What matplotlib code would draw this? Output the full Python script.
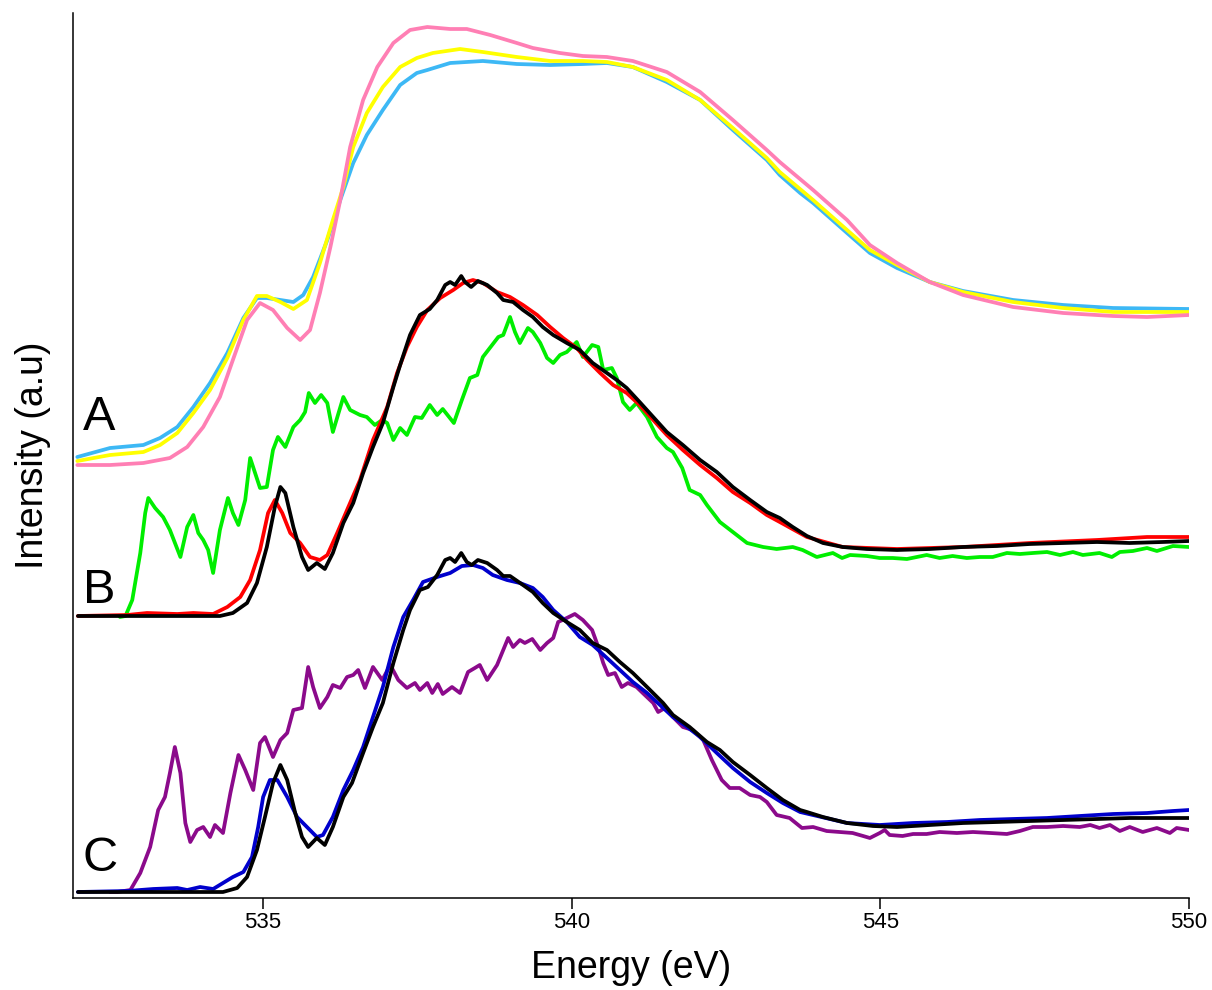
import matplotlib
matplotlib.use("Agg")
import matplotlib.pyplot as plt
from matplotlib import font_manager

plt.rcParams['font.family'] = ['Liberation Sans', 'DejaVu Sans']

# ---------------- Panel A ----------------
eA_blue = [531.99, 532.52, 533.06, 533.33, 533.61, 533.87, 534.14, 534.42, 534.68, 534.90,
           535.06, 535.28, 535.49, 535.65, 535.81, 536.04, 536.25, 536.46, 536.68, 536.94,
           537.22, 537.49, 537.66, 538.03, 538.56, 539.11, 539.65, 540.18, 540.57, 540.99,
           541.54, 542.08, 542.61, 543.16, 543.37, 543.70, 543.91, 544.46, 544.83, 545.27,
           545.80, 546.34, 547.15, 547.96, 548.77, 550.0]
iA_blue = [441, 450, 453, 460, 471, 491, 515, 545, 580, 600,
           600, 598, 596, 603, 621, 658, 698, 735, 763, 788,
           813, 825, 828, 835, 837, 834, 833, 834, 835, 831,
           816, 798, 768, 738, 723, 705, 695, 665, 645, 630,
           616, 607, 598, 593, 590, 589]

eA_yellow = [531.99, 532.52, 533.06, 533.33, 533.61, 533.87, 534.14, 534.42, 534.68, 534.90,
             535.06, 535.28, 535.49, 535.71, 535.92, 536.13, 536.30, 536.46, 536.68, 536.94,
             537.22, 537.49, 537.75, 538.19, 538.56, 539.11, 539.65, 540.18, 540.57, 540.99,
             541.54, 542.08, 542.61, 543.16, 543.37, 543.91, 544.46, 544.83, 545.27, 545.80,
             546.34, 547.15, 547.96, 548.77, 550.0]
iA_yellow = [437, 443, 446, 453, 465, 485, 508, 540, 578, 602,
             602, 596, 589, 598, 635, 678, 711, 751, 785, 811,
             831, 840, 845, 849, 846, 841, 837, 837, 836, 831,
             818, 798, 770, 740, 726, 698, 668, 648, 633, 616,
             606, 596, 590, 586, 586]

eA_pink = [531.99, 532.52, 533.06, 533.49, 533.77, 534.03, 534.30, 534.51, 534.74, 534.95,
           535.16, 535.39, 535.60, 535.76, 535.92, 536.09, 536.25, 536.41, 536.62, 536.85,
           537.11, 537.38, 537.66, 538.03, 538.30, 538.68, 539.11, 539.37, 539.81, 540.18,
           540.57, 540.99, 541.54, 542.08, 542.61, 543.16, 543.37, 543.91, 544.46, 544.83,
           545.27, 545.80, 546.34, 547.15, 547.96, 548.77, 549.32, 550.0]
iA_pink = [433, 433, 435, 440, 451, 471, 501, 538, 578, 595,
           588, 570, 558, 568, 605, 651, 698, 751, 798, 831,
           855, 868, 871, 869, 869, 863, 855, 850, 845, 842,
           841, 837, 826, 806, 778, 748, 736, 708, 678, 653,
           635, 616, 603, 591, 585, 582, 581, 583]

# ---------------- Panel B ----------------
eB_green = [532.68, 532.77, 532.88, 533.01, 533.09, 533.14, 533.25, 533.38, 533.49, 533.66,
            533.77, 533.87, 533.95, 534.03, 534.11, 534.19, 534.30, 534.43, 534.51, 534.60,
            534.71, 534.79, 534.87, 534.95, 535.06, 535.16, 535.24, 535.36, 535.49, 535.60,
            535.68, 535.74, 535.84, 535.94, 536.04, 536.13, 536.30, 536.41, 536.57, 536.68,
            536.81, 536.93, 537.01, 537.11, 537.22, 537.33, 537.46, 537.57, 537.70, 537.82,
            537.91, 538.09, 538.22, 538.35, 538.47, 538.56, 538.71, 538.81, 538.89, 539.00,
            539.08, 539.16, 539.29, 539.37, 539.49, 539.60, 539.70, 539.81, 539.92, 540.08,
            540.18, 540.33, 540.43, 540.51, 540.65, 540.73, 540.83, 540.94, 541.05, 541.22,
            541.38, 541.54, 541.64, 541.79, 541.91, 542.08, 542.19, 542.40, 542.61, 542.84,
            543.10, 543.32, 543.58, 543.74, 543.97, 544.23, 544.38, 544.51, 544.78, 544.99,
            545.20, 545.43, 545.75, 545.96, 546.17, 546.40, 546.61, 546.82, 547.05, 547.26,
            547.47, 547.70, 547.91, 548.12, 548.28, 548.55, 548.75, 548.88, 549.09, 549.32,
            549.48, 549.74, 550.0]
iB_green = [281, 282, 298, 345, 385, 400, 390, 381, 368, 341,
            371, 383, 365, 358, 348, 325, 368, 400, 385, 373,
            398, 440, 425, 410, 411, 448, 461, 451, 471, 478,
            486, 505, 495, 503, 495, 466, 501, 488, 483, 481,
            473, 478, 475, 458, 470, 463, 481, 480, 493, 483,
            489, 475, 498, 520, 523, 541, 553, 561, 563, 581,
            566, 555, 570, 566, 555, 540, 535, 543, 546, 556,
            541, 553, 551, 528, 530, 520, 496, 488, 495, 481,
            461, 450, 446, 430, 408, 403, 393, 376, 366, 355,
            351, 349, 351, 348, 341, 345, 340, 343, 342, 340,
            340, 339, 343, 340, 342, 340, 341, 341, 345, 344,
            345, 346, 343, 346, 343, 345, 341, 346, 347, 350,
            347, 352, 351]

eB_red = [532.00, 532.80, 533.12, 533.61, 533.87, 534.19, 534.42, 534.63, 534.79, 534.95,
          535.08, 535.19, 535.31, 535.44, 535.60, 535.76, 535.92, 536.04, 536.20, 536.36,
          536.57, 536.78, 537.01, 537.17, 537.33, 537.49, 537.66, 537.87, 538.08, 538.24,
          538.40, 538.56, 538.79, 539.00, 539.21, 539.44, 539.65, 539.86, 540.08, 540.25,
          540.46, 540.67, 540.89, 541.10, 541.32, 541.54, 541.80, 542.08, 542.35, 542.61,
          542.89, 543.16, 543.37, 543.81, 544.39, 545.27, 546.34, 547.42, 548.51, 549.32,
          550.0]
iB_red = [282, 283, 285, 284, 285, 284, 291, 301, 318, 348,
          385, 398, 385, 365, 355, 341, 338, 343, 365, 388,
          418, 458, 491, 525, 551, 571, 588, 600, 608, 615,
          618, 615, 606, 601, 593, 583, 571, 560, 550, 538,
          525, 513, 505, 493, 478, 463, 448, 433, 420, 406,
          395, 383, 376, 361, 351, 349, 351, 355, 358, 361,
          361]

eB_black = [532.00, 534.30, 534.51, 534.74, 534.90, 535.06, 535.19, 535.28, 535.36, 535.49,
            535.63, 535.73, 535.87, 536.00, 536.13, 536.30, 536.46, 536.62, 536.78, 536.94,
            537.11, 537.22, 537.38, 537.54, 537.70, 537.82, 537.95, 538.03, 538.11, 538.21,
            538.27, 538.37, 538.48, 538.63, 538.79, 538.89, 539.05, 539.21, 539.37, 539.53,
            539.70, 539.92, 540.13, 540.34, 540.57, 540.73, 540.89, 541.10, 541.32, 541.54,
            541.80, 542.08, 542.35, 542.61, 542.89, 543.16, 543.37, 543.58, 543.81, 544.07,
            544.39, 544.78, 545.27, 545.80, 546.34, 546.89, 547.42, 547.96, 548.51, 549.04,
            549.57, 550.0]
iB_black = [282, 282, 285, 295, 315, 351, 391, 411, 405, 371,
            341, 328, 335, 329, 345, 375, 395, 425, 451, 475,
            511, 533, 563, 583, 589, 598, 613, 616, 613, 622,
            616, 611, 617, 613, 605, 598, 596, 588, 581, 571,
            563, 555, 548, 535, 525, 518, 510, 496, 481, 466,
            453, 438, 426, 411, 398, 386, 380, 371, 362, 355,
            351, 349, 348, 349, 351, 352, 354, 355, 356, 355,
            356, 357]

# ---------------- Panel C ----------------
eC_purple = [532.52, 532.64, 532.85, 533.01, 533.17, 533.30, 533.41, 533.49, 533.57, 533.66,
             533.74, 533.82, 533.93, 534.03, 534.14, 534.22, 534.35, 534.47, 534.60, 534.71,
             534.84, 534.95, 535.03, 535.16, 535.28, 535.39, 535.49, 535.63, 535.73, 535.81,
             535.92, 536.04, 536.13, 536.25, 536.36, 536.46, 536.54, 536.65, 536.78, 536.93,
             537.06, 537.19, 537.33, 537.46, 537.54, 537.66, 537.74, 537.83, 537.91, 538.06,
             538.19, 538.32, 538.43, 538.51, 538.63, 538.79, 538.87, 538.97, 539.05, 539.16,
             539.24, 539.36, 539.49, 539.60, 539.70, 539.78, 539.92, 540.05, 540.18, 540.33,
             540.43, 540.51, 540.59, 540.70, 540.81, 540.91, 541.05, 541.15, 541.32, 541.40,
             541.51, 541.64, 541.80, 541.96, 542.13, 542.27, 542.43, 542.56, 542.72, 542.89,
             543.05, 543.16, 543.32, 543.53, 543.73, 543.91, 544.13, 544.34, 544.55, 544.72,
             544.83, 544.99, 545.07, 545.15, 545.36, 545.53, 545.75, 545.96, 546.24, 546.50,
             546.78, 547.05, 547.26, 547.47, 547.70, 547.96, 548.23, 548.40, 548.55, 548.72,
             548.88, 549.04, 549.25, 549.48, 549.69, 549.80, 550.0]
iC_purple = [6, 6, 8, 25, 51, 88, 101, 125, 151, 125,
             75, 56, 68, 71, 61, 73, 65, 105, 143, 128,
             108, 155, 161, 141, 158, 165, 188, 190, 231, 211,
             190, 201, 213, 210, 221, 223, 228, 210, 231, 218,
             233, 218, 210, 215, 208, 215, 205, 214, 204, 211,
             205, 226, 230, 233, 218, 233, 245, 260, 251, 258,
             255, 259, 248, 255, 260, 276, 280, 284, 278, 268,
             251, 235, 223, 225, 211, 215, 211, 205, 195, 186,
             190, 181, 171, 168, 158, 138, 118, 110, 110, 103,
             101, 96, 83, 80, 70, 71, 67, 66, 65, 62,
             60, 65, 68, 63, 62, 64, 64, 66, 65, 66,
             65, 64, 67, 71, 71, 72, 71, 73, 70, 73,
             67, 71, 66, 70, 65, 70, 68]

eC_blue = [532.00, 532.80, 533.22, 533.61, 533.77, 533.98, 534.19, 534.35, 534.51, 534.68,
           534.82, 534.92, 535.00, 535.11, 535.23, 535.39, 535.55, 535.71, 535.87, 535.97,
           536.13, 536.30, 536.46, 536.62, 536.78, 536.94, 537.11, 537.27, 537.43, 537.59,
           537.82, 538.03, 538.22, 538.40, 538.56, 538.72, 538.95, 539.16, 539.37, 539.53,
           539.70, 539.92, 540.13, 540.34, 540.57, 540.78, 540.99, 541.22, 541.43, 541.64,
           541.87, 542.08, 542.35, 542.61, 542.89, 543.16, 543.42, 543.70, 544.46, 544.99,
           545.53, 546.08, 546.61, 547.15, 547.70, 548.23, 548.77, 549.32, 549.74, 550.0]
iC_blue = [6, 7, 9, 10, 8, 11, 9, 15, 21, 26,
           41, 71, 101, 118, 118, 101, 81, 71, 61, 63,
           81, 108, 128, 151, 181, 211, 251, 281, 298, 316,
           321, 325, 332, 333, 330, 323, 318, 315, 310, 301,
           288, 276, 261, 253, 240, 228, 216, 205, 193, 181,
           171, 161, 145, 130, 116, 105, 95, 86, 75, 73,
           75, 76, 78, 79, 80, 82, 84, 85, 87, 88]

eC_black = [532.00, 534.35, 534.58, 534.74, 534.90, 535.03, 535.16, 535.28, 535.39, 535.52,
            535.63, 535.73, 535.87, 536.00, 536.13, 536.30, 536.44, 536.62, 536.78, 536.94,
            537.11, 537.27, 537.38, 537.54, 537.67, 537.82, 537.95, 538.03, 538.11, 538.21,
            538.30, 538.38, 538.48, 538.63, 538.79, 538.89, 539.00, 539.21, 539.37, 539.53,
            539.70, 539.92, 540.13, 540.34, 540.57, 540.78, 540.99, 541.22, 541.48, 541.64,
            541.91, 542.19, 542.40, 542.61, 542.89, 543.16, 543.42, 543.70, 543.81, 544.07,
            544.46, 544.88, 545.27, 545.80, 546.34, 546.89, 547.42, 547.96, 548.51, 549.04,
            550.0]
iC_black = [6, 6, 10, 21, 48, 81, 115, 133, 118, 85,
            61, 51, 60, 53, 71, 101, 115, 145, 171, 195,
            235, 268, 288, 308, 311, 323, 338, 340, 336, 345,
            336, 333, 338, 335, 328, 322, 322, 313, 306, 295,
            285, 276, 268, 255, 248, 236, 225, 211, 195, 183,
            171, 156, 148, 136, 123, 110, 98, 88, 86, 81,
            75, 72, 71, 73, 75, 76, 77, 78, 79, 80,
            80]

panel_labels = ["A", "B", "C"]
panel_label_y = [468, 295, 27]
xticks = [535, 540, 545, 550]

# condensed face for the tick numbers when it is available
installed = {f.name for f in font_manager.fontManager.ttflist}
tick_family = ['Liberation Sans Narrow'] if 'Liberation Sans Narrow' in installed else ['Liberation Sans']

fig = plt.figure(figsize=(12.12, 9.9), dpi=100)
ax = fig.add_axes([73 / 1212, 1 - 898 / 990, (1189 - 73) / 1212, (898 - 13) / 990])

lw = 2.7
series = [
    (eA_blue, iA_blue, "#3db8f5"),
    (eA_yellow, iA_yellow, "#ffff00"),
    (eA_pink, iA_pink, "#ff7fb4"),
    (eB_green, iB_green, "#00ee00"),
    (eB_red, iB_red, "#ff0000"),
    (eB_black, iB_black, "#000000"),
    (eC_purple, iC_purple, "#8b0a8b"),
    (eC_blue, iC_blue, "#0000cc"),
    (eC_black, iC_black, "#000000"),
]
for e, i, c in series:
    ax.plot(e, i, color=c, lw=lw, solid_joinstyle="round", solid_capstyle="round")

for lab, y in zip(panel_labels, panel_label_y):
    ax.text(532.08, y, lab, fontsize=35, ha="left", va="baseline", color="black")

ax.set_xlim(531.92, 550.0)
ax.set_ylim(0, 885)
ax.set_xticks(xticks)
ax.set_xticklabels([str(t) for t in xticks], family=tick_family)
ax.set_yticks([])
ax.tick_params(axis="x", direction="out", length=8, width=1.1, pad=2, labelsize=16)
for side in ("top", "right"):
    ax.spines[side].set_visible(False)
for side in ("left", "bottom"):
    ax.spines[side].set_linewidth(1.1)

ax.set_xlabel("Energy (eV)", fontsize=27)
ax.xaxis.label.set_va("center")
ax.xaxis.set_label_coords(0.5, -(968 - 898) / 885)
ax.set_ylabel("Intensity (a.u)", fontsize=27)
ax.yaxis.label.set_va("center")
ax.yaxis.set_label_coords(-(73 - 33) / 1116, 0.5)

fig.savefig("out.png", dpi=100)
